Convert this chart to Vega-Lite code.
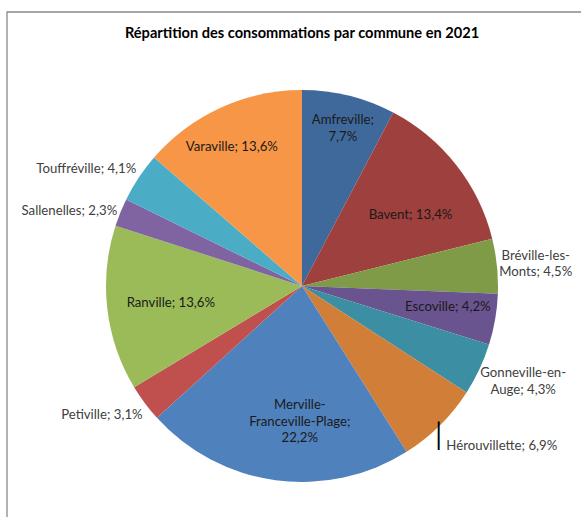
{
  "$schema": "https://vega.github.io/schema/vega-lite/v6.json",
  "width": 590,
  "height": 548,
  "autosize": {"type": "none"},
  "padding": {"left": 7, "top": 12, "right": -16, "bottom": -43},
  "background": "white",
  "config": {
    "view": {"stroke": null},
    "text": {"font": "Lato", "fontSize": 13.2, "lineBreak": "\n", "lineHeight": 16.5, "baseline": "middle", "align": "center"}
  },
  "title": {
    "text": "Répartition des consommations par commune en 2021",
    "font": "Lato",
    "fontSize": 14.6,
    "fontWeight": "bold",
    "color": "#000000",
    "anchor": "middle",
    "baseline": "alphabetic",
    "offset": -41
  },
  "data": {
    "values": [
      {"order": 1, "name": "Amfreville", "value": 7.7, "label": "Amfreville;\n7,7%"},
      {"order": 2, "name": "Bavent", "value": 13.4, "label": "Bavent; 13,4%"},
      {"order": 3, "name": "Bréville-les-Monts", "value": 4.5, "label": "Bréville-les-\nMonts; 4,5%"},
      {"order": 4, "name": "Escoville", "value": 4.2, "label": "Escoville; 4,2%"},
      {"order": 5, "name": "Gonneville-en-Auge", "value": 4.3, "label": "Gonneville-en-\nAuge; 4,3%"},
      {"order": 6, "name": "Hérouvillette", "value": 6.9, "label": "Hérouvillette; 6,9%"},
      {"order": 7, "name": "Merville-Franceville-Plage", "value": 22.2, "label": "Merville-\nFranceville-Plage;\n22,2%"},
      {"order": 8, "name": "Petiville", "value": 3.1, "label": "Petiville; 3,1%"},
      {"order": 9, "name": "Ranville", "value": 13.6, "label": "Ranville; 13,6%"},
      {"order": 10, "name": "Sallenelles", "value": 2.3, "label": "Sallenelles; 2,3%"},
      {"order": 11, "name": "Touffréville", "value": 4.1, "label": "Touffréville; 4,1%"},
      {"order": 12, "name": "Varaville", "value": 13.6, "label": "Varaville; 13,6%"}
    ]
  },
  "layer": [
    {
      "data": {"values": [{"frame": "chart"}]},
      "mark": {"type": "rect", "fill": null, "stroke": "#8a8a8a", "strokeWidth": 1.3},
      "encoding": {}
    },
    {
      "encoding": {
        "theta": {"field": "value", "type": "quantitative", "stack": true},
        "order": {"field": "order", "type": "quantitative"},
        "detail": {"field": "name", "type": "nominal"}
      },
      "layer": [
        {
          "mark": {"type": "arc", "outerRadius": 196},
          "encoding": {
            "color": {
              "field": "name", "type": "nominal", "legend": null,
              "scale": {
                "domain": ["Amfreville", "Bavent", "Bréville-les-Monts", "Escoville", "Gonneville-en-Auge", "Hérouvillette", "Merville-Franceville-Plage", "Petiville", "Ranville", "Sallenelles", "Touffréville", "Varaville"],
                "range": ["#3F699B", "#9E403D", "#7F9B48", "#6A548F", "#3C8EA3", "#D07E38", "#4F81BD", "#C0504D", "#9BBB59", "#8064A2", "#4BACC6", "#F79646"]
              }
            }
          }
        },
        {"mark": {"type": "text", "radius": 162, "dx": 2, "dy": -8.25, "color": "#1a1a1a"},
         "encoding": {"text": {"condition": {"test": "datum.name === 'Amfreville'", "field": "label", "type": "nominal"}, "value": ""}}},
        {"mark": {"type": "text", "radius": 129, "dx": 7, "dy": 9, "color": "#1a1a1a"},
         "encoding": {"text": {"condition": {"test": "datum.name === 'Bavent'", "field": "label", "type": "nominal"}, "value": ""}}},
        {"mark": {"type": "text", "radius": 235, "dx": 0, "dy": -6.25, "color": "#404040"},
         "encoding": {"text": {"condition": {"test": "datum.name === 'Bréville-les-Monts'", "field": "label", "type": "nominal"}, "value": ""}}},
        {"mark": {"type": "text", "radius": 147, "dx": 1, "dy": -4, "color": "#1a1a1a"},
         "encoding": {"text": {"condition": {"test": "datum.name === 'Escoville'", "field": "label", "type": "nominal"}, "value": ""}}},
        {"mark": {"type": "text", "radius": 241, "dx": 3, "dy": -15.25, "color": "#404040"},
         "encoding": {"text": {"condition": {"test": "datum.name === 'Gonneville-en-Auge'", "field": "label", "type": "nominal"}, "value": ""}}},
        {"mark": {"type": "text", "radius": 196, "dx": 6.5, "dy": 21, "align": "left", "color": "#404040"},
         "encoding": {"text": {"condition": {"test": "datum.name === 'Hérouvillette'", "field": "label", "type": "nominal"}, "value": ""}}},
        {"mark": {"type": "text", "radius": 196, "dx": -1, "dy": 0, "baseline": "top", "font": "DejaVu Sans Mono", "fontSize": 24, "lineHeight": 28, "color": "#000000"},
         "encoding": {"text": {"condition": {"test": "datum.name === 'Hérouvillette'", "value": "│"}, "value": ""}}},
        {"mark": {"type": "text", "radius": 135, "dx": 16, "dy": -14.5, "color": "#1a1a1a"},
         "encoding": {"text": {"condition": {"test": "datum.name === 'Merville-Franceville-Plage'", "field": "label", "type": "nominal"}, "value": ""}}},
        {"mark": {"type": "text", "radius": 237, "dx": -10, "dy": -13, "color": "#404040"},
         "encoding": {"text": {"condition": {"test": "datum.name === 'Petiville'", "field": "label", "type": "nominal"}, "value": ""}}},
        {"mark": {"type": "text", "radius": 132, "dx": 0, "dy": 1.5, "color": "#1a1a1a"},
         "encoding": {"text": {"condition": {"test": "datum.name === 'Ranville'", "field": "label", "type": "nominal"}, "value": ""}}},
        {"mark": {"type": "text", "radius": 244, "dx": -6.5, "dy": 17, "color": "#404040"},
         "encoding": {"text": {"condition": {"test": "datum.name === 'Sallenelles'", "field": "label", "type": "nominal"}, "value": ""}}},
        {"mark": {"type": "text", "radius": 245, "dx": -11.6, "dy": 18.5, "color": "#404040"},
         "encoding": {"text": {"condition": {"test": "datum.name === 'Touffréville'", "field": "label", "type": "nominal"}, "value": ""}}},
        {"mark": {"type": "text", "radius": 156, "dx": -5.5, "dy": 2.5, "color": "#1a1a1a"},
         "encoding": {"text": {"condition": {"test": "datum.name === 'Varaville'", "field": "label", "type": "nominal"}, "value": ""}}}
      ]
    }
  ]
}
